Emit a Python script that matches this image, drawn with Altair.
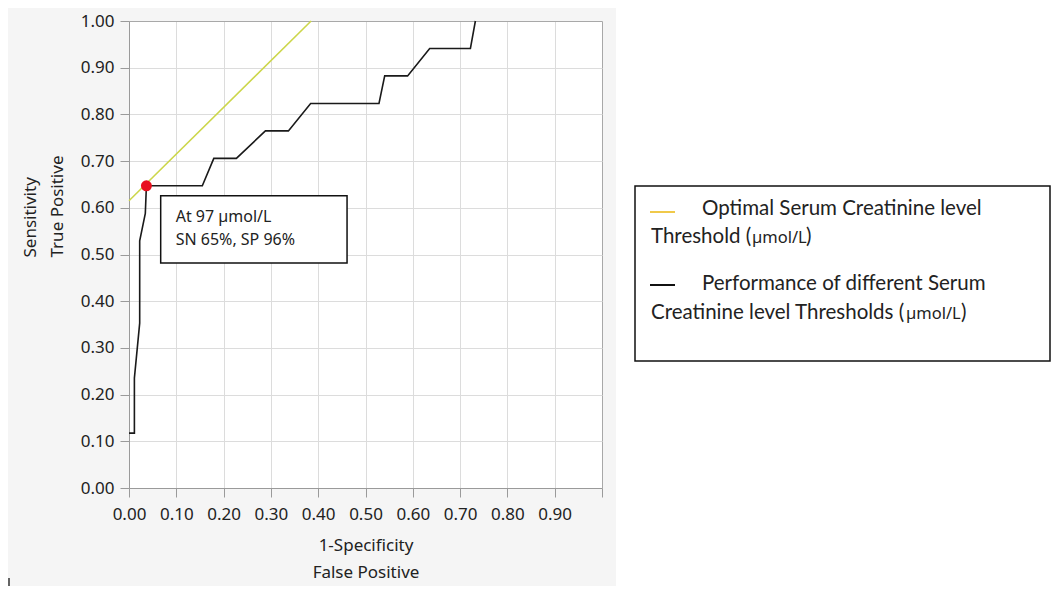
import altair as alt
import pandas as pd

# ---------------- data ----------------
fpr = [0.0, 0.0114, 0.0114, 0.0226, 0.0226, 0.0345, 0.0368, 0.155, 0.1793, 0.227,
       0.2884, 0.337, 0.384, 0.5285, 0.5406, 0.589, 0.6357, 0.7218, 0.7323]
tpr = [0.1176, 0.1176, 0.2353, 0.3529, 0.5294, 0.5882, 0.6471, 0.6471, 0.7059, 0.7059,
       0.7647, 0.7647, 0.8235, 0.8235, 0.8824, 0.8824, 0.9412, 0.9412, 1.0]

optimal_fpr = [0.0, 0.385]
optimal_tpr = [0.615, 1.0]

cutoff_fpr = [0.0368]
cutoff_tpr = [0.6471]

annotation_lines = ["At 97 \u00b5mol/L", "SN 65%, SP 96%"]

tick_values = [0.0, 0.05, 0.1, 0.15, 0.2, 0.25, 0.3, 0.35, 0.4, 0.45, 0.5,
               0.55, 0.6, 0.65, 0.7, 0.75, 0.8, 0.85, 0.9, 0.95, 1.0]

x_title = ["1-Specificity", "False Positive"]
y_title = ["Sensitivity", "True Positive"]

legend_line1 = "Optimal Serum Creatinine level"
legend_line2 = "Threshold ("
legend_line3 = "Performance of different Serum"
legend_line4 = "Creatinine level Thresholds ("
unit_label = "\u00b5mol/L"
close_paren = ")"

# ---------------- styling ----------------
FONT = "Noto Sans"
LFONT = "Lato"
TXT = "#222222"
W, H = 473, 467

MINOR = "abs(datum.value*10 - round(datum.value*10)) > 0.01"


def make_axis(title, hide_last, **kw):
    lab = MINOR + (" || datum.value > 0.99" if hide_last else "")
    return alt.Axis(
        values=tick_values,
        title=title,
        labelExpr="(" + lab + ") ? '' : format(datum.value, '.2f')",
        labelOverlap=False,
        labelFlush=False,
        labelFont=FONT,
        labelFontSize=17,
        labelColor=TXT,
        tickSize={"condition": {"test": MINOR, "value": 5}, "value": 9},
        tickColor="#9a9a9a",
        domainColor="#9a9a9a",
        gridOpacity={"condition": {"test": MINOR, "value": 0}, "value": 1},
        gridColor={"condition": {"test": "datum.value > 0.99", "value": "#a8a8a8"}, "value": "#dcdcdc"},
        titleFont=FONT,
        titleFontSize=17,
        titleFontWeight="normal",
        titleColor=TXT,
        titleLineHeight=27,
        titleBaseline="alphabetic",
        **kw,
    )


x_axis = make_axis(x_title, True, labelPadding=9, titleAlign="center",
                   titleX=236.5, titleY=62)
y_axis = make_axis(y_title, False, labelPadding=6, titleAngle=270, titleAlign="left",
                   titleX=-94, titleY=236)

xs = alt.Scale(domain=[0, 1], nice=False, zero=False)
ys = alt.Scale(domain=[0, 1], nice=False, zero=False)

roc = pd.DataFrame({"x": fpr, "y": tpr, "i": list(range(len(fpr)))})
opt = pd.DataFrame({"x": optimal_fpr, "y": optimal_tpr})
pt = pd.DataFrame({"x": cutoff_fpr, "y": cutoff_tpr})
box = pd.DataFrame({"x": [0.067], "x2": [0.461], "y": [0.482], "y2": [0.626]})
ann = pd.DataFrame({"x": [0.0987, 0.0987], "y": [0.570, 0.520], "t": annotation_lines})
one = pd.DataFrame({"a": [0]})

# white panel on the right-hand side of the figure
white_side = alt.Chart(one).mark_rect(color="white").encode(
    x=alt.value(487), x2=alt.value(922), y=alt.value(-13), y2=alt.value(565))

curve = alt.Chart(roc).mark_line(color="#1a1a1a", strokeWidth=1.6).encode(
    x=alt.X("x:Q", scale=xs, axis=x_axis),
    y=alt.Y("y:Q", scale=ys, axis=y_axis),
    order="i:Q",
)

optimal = alt.Chart(opt).mark_line(color="#ccd64a", strokeWidth=1.6).encode(
    x=alt.X("x:Q", scale=xs), y=alt.Y("y:Q", scale=ys))

dot = alt.Chart(pt).mark_point(filled=True, color="#e8101e", size=120, opacity=1).encode(
    x=alt.X("x:Q", scale=xs), y=alt.Y("y:Q", scale=ys))

ann_box = alt.Chart(box).mark_rect(fill="white", stroke="#111111", strokeWidth=1.5).encode(
    x=alt.X("x:Q", scale=xs), x2="x2:Q", y=alt.Y("y:Q", scale=ys), y2="y2:Q")

ann_text = alt.Chart(ann).mark_text(align="left", baseline="alphabetic", font=FONT,
                                    fontSize=16, color=TXT).encode(
    x=alt.X("x:Q", scale=xs), y=alt.Y("y:Q", scale=ys), text="t:N")

# legend (drawn as a box at the right)
leg_box = alt.Chart(one).mark_rect(fill="white", stroke="#111111", strokeWidth=1.5).encode(
    x=alt.value(506), x2=alt.value(921), y=alt.value(165), y2=alt.value(340))
sw1 = alt.Chart(one).mark_rule(color="#f0c94a", strokeWidth=2).encode(
    x=alt.value(521), x2=alt.value(546), y=alt.value(191))
sw2 = alt.Chart(one).mark_rule(color="#111111", strokeWidth=2).encode(
    x=alt.value(521), x2=alt.value(546), y=alt.value(264))


def ltext(txt, x, y, size=20.5, font=LFONT):
    return alt.Chart(one).mark_text(align="left", baseline="alphabetic", font=font,
                                    fontSize=size, color=TXT, text=txt).encode(
        x=alt.value(x), y=alt.value(y))


legend_layers = [
    ltext(legend_line1, 573, 194),
    ltext(legend_line2, 522, 222),
    ltext(unit_label, 623, 222, size=16.5, font=FONT),
    ltext(close_paren, 677, 222),
    ltext(legend_line3, 573, 269),
    ltext(legend_line4, 522, 298),
    ltext(unit_label, 777, 298, size=16.5, font=FONT),
    ltext(close_paren, 832, 298),
]

tick_mark = alt.Chart(one).mark_rule(color="#333333", strokeWidth=1.5).encode(
    x=alt.value(-120), y=alt.value(557), y2=alt.value(573))

chart = alt.layer(
    white_side, curve, optimal, ann_box, ann_text, dot, leg_box, sw1, sw2,
    *legend_layers, tick_mark,
).properties(
    width=W, height=H,
    autosize=alt.AutoSizeParams(type="none"),
    padding={"left": 121, "top": 13, "right": 449, "bottom": 98},
    background="#f5f5f5",
).configure_view(fill="white", stroke="transparent")

chart.save("out.html", embed_options={"renderer": "svg", "actions": False})
